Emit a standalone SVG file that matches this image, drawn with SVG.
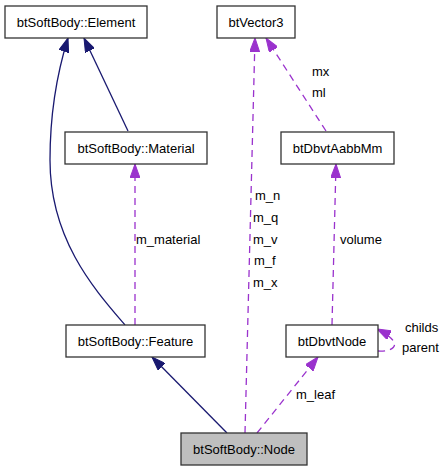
<svg xmlns="http://www.w3.org/2000/svg" width="445" height="472" viewBox="0 0 445 472">
<style>
  .box { fill: #ffffff; stroke: #333333; stroke-width: 1.3; }
  .hl { fill: #bfbfbf; }
  text { font-family: "Liberation Sans", Arial, sans-serif; font-size: 13px; fill: #000000; }
  .c { text-anchor: middle; }
  .inh { fill: none; stroke: #191970; stroke-width: 1.3; }
  .use { fill: none; stroke: #9a32cd; stroke-width: 1.3; stroke-dasharray: 7,5; }
</style>
<defs>
  <marker id="aInh" markerUnits="userSpaceOnUse" viewBox="0 0 14 10" refX="14" refY="5" markerWidth="14" markerHeight="10" orient="auto">
    <path d="M0,0 L14,5 L0,10 z" fill="#191970" stroke="#191970" stroke-width="1"/>
  </marker>
  <marker id="aUse" markerUnits="userSpaceOnUse" viewBox="0 0 14 10" refX="14" refY="5" markerWidth="14" markerHeight="10" orient="auto">
    <path d="M0,0 L14,5 L0,10 z" fill="#9a32cd" stroke="#9a32cd" stroke-width="1"/>
  </marker>
</defs>
<rect width="445" height="472" fill="#ffffff"/>
<g id="connectors">
  <path class="inh" d="M125,325 C95,290 50,240 50,160 C50,110 58,70 68,38" marker-end="url(#aInh)"/>
  <path class="inh" d="M128,131 L84,38" marker-end="url(#aInh)"/>
  <path class="use" d="M135,325 L135,164" marker-end="url(#aUse)"/>
  <path class="use" d="M245,433 L255,38" marker-end="url(#aUse)"/>
  <path class="use" d="M326,131 L266,38" marker-end="url(#aUse)"/>
  <path class="use" d="M332,325 L336,164" marker-end="url(#aUse)"/>
  <path class="use" d="M257,433 L318,357" marker-end="url(#aUse)"/>
  <path class="inh" d="M227,433 L152,357" marker-end="url(#aInh)"/>
  <path class="use" d="M378,351 C395,352 405,343 377,329" marker-end="url(#aUse)"/>
  <text x="312" y="76">mx</text>
  <text x="312" y="97">ml</text>
  <text x="136" y="244">m_material</text>
  <text x="255" y="200">m_n</text>
  <text x="253" y="222">m_q</text>
  <text x="253" y="244">m_v</text>
  <text x="254" y="265">m_f</text>
  <text x="253" y="287">m_x</text>
  <text x="340" y="244">volume</text>
  <text x="405" y="332">childs</text>
  <text x="402" y="352">parent</text>
  <text x="296" y="399">m_leaf</text>
</g>
<g id="node-element">
  <rect class="box" x="5" y="6" width="142" height="32"/>
  <text class="c" x="76" y="27">btSoftBody::Element</text>
</g>
<g id="node-vector3">
  <rect class="box" x="217" y="6" width="78" height="32"/>
  <text class="c" x="256" y="27">btVector3</text>
</g>
<g id="node-material">
  <rect class="box" x="65" y="132" width="142" height="32"/>
  <text class="c" x="136" y="153">btSoftBody::Material</text>
</g>
<g id="node-aabbmm">
  <rect class="box" x="281" y="132" width="113" height="32"/>
  <text class="c" x="337.5" y="153">btDbvtAabbMm</text>
</g>
<g id="node-feature">
  <rect class="box" x="66" y="325" width="139" height="32"/>
  <text class="c" x="135.5" y="346">btSoftBody::Feature</text>
</g>
<g id="node-dbvtnode">
  <rect class="box" x="286" y="325" width="92" height="32"/>
  <text class="c" x="332" y="346">btDbvtNode</text>
</g>
<g id="node-node">
  <rect class="box hl" x="181" y="433" width="126" height="32"/>
  <text class="c" x="244" y="454">btSoftBody::Node</text>
</g>
</svg>
